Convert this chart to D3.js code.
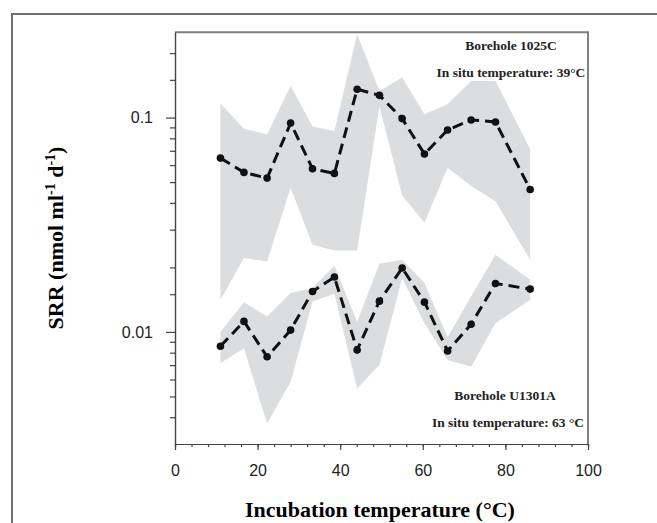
<!DOCTYPE html>
<html>
<head>
<meta charset="utf-8">
<script src="https://cdn.jsdelivr.net/npm/d3@7"></script>
<style>
  body { margin: 0; background: #fff; }
  .axis text { font-family: "Liberation Sans", Arial, sans-serif; font-size: 16px; fill: #222; }
  .axis path, .axis line { stroke: #444; stroke-width: 1.2; }
</style>
</head>
<body>
<div id="chart"></div>
<script>
// incubation temperatures (°C)
var temps = [11, 16.7, 22.3, 28, 33.3, 38.6, 44.1, 49.5, 55, 60.4, 66, 71.7, 77.6, 86];

// Borehole 1025C (in situ 39 °C)
var srr1025 = [0.0647, 0.0555, 0.0522, 0.0943, 0.0577, 0.0549, 0.1357, 0.127, 0.0989, 0.0676, 0.0875, 0.0975, 0.0954, 0.0462];
var hi1025 = [0.1163, 0.0888, 0.0835, 0.1406, 0.0908, 0.0866, 0.245, 0.1332, 0.1539, 0.1036, 0.1154, 0.1483, 0.1483, 0.0711];
var lo1025 = [0.0141, 0.0221, 0.0213, 0.047, 0.0255, 0.024, 0.024, 0.113, 0.0433, 0.0323, 0.0583, 0.0479, 0.0407, 0.0217];

// Borehole U1301A (in situ 63 °C)
var srrU1301 = [0.00857, 0.0112, 0.00766, 0.0102, 0.01544, 0.01803, 0.00824, 0.01392, 0.01987, 0.01377, 0.00815, 0.01086, 0.01683, 0.01584];
var hiU1301 = [0.0100, 0.01377, 0.01179, 0.01518, 0.01601, 0.02036, 0.01117, 0.0208, 0.02173, 0.0169, 0.00945, 0.01463, 0.0229, 0.0175];
var loU1301 = [0.00714, 0.00839, 0.00374, 0.00585, 0.01386, 0.01506, 0.00545, 0.00701, 0.01783, 0.01098, 0.0074, 0.00688, 0.01098, 0.01412];

// ticks
var xMajor = [0, 20, 40, 60, 80, 100];
var xMinor = d3.range(0, 101, 4);
var yMajor = [0.01, 0.1];
var yMinor = [0.004, 0.005, 0.006, 0.007, 0.008, 0.009, 0.015, 0.02, 0.03, 0.04, 0.05, 0.06, 0.07, 0.08, 0.09, 0.15, 0.2];

var width = 657;
var height = 523;
var plot = { left: 175, right: 588, top: 32.3, bottom: 444 };

var svg = d3.select("#chart").append("svg")
    .attr("width", width)
    .attr("height", height);

// outer frame (left and top edges show)
svg.append("path")
    .attr("d", "M12," + height + "V14H" + width)
    .attr("fill", "none")
    .attr("stroke", "#707070")
    .attr("stroke-width", 2);

var x = d3.scaleLinear().domain([0, 100]).range([plot.left, plot.right]);
var y = d3.scaleLog().domain([0.003, 0.25]).range([plot.bottom, plot.top]);

function series(vals, hi, lo) {
    return temps.map(function(t, i) { return { t: t, v: vals[i], hi: hi[i], lo: lo[i] }; });
}
var sets = [series(srr1025, hi1025, lo1025), series(srrU1301, hiU1301, loU1301)];

var area = d3.area()
    .x(function(d) { return x(d.t); })
    .y0(function(d) { return y(d.lo); })
    .y1(function(d) { return y(d.hi); });

var line = d3.line()
    .x(function(d) { return x(d.t); })
    .y(function(d) { return y(d.v); });

sets.forEach(function(s) {
    svg.append("path")
        .attr("d", area(s))
        .attr("fill", "#dcdddf");
});

sets.forEach(function(s) {
    svg.append("path")
        .attr("d", line(s))
        .attr("fill", "none")
        .attr("stroke", "#111")
        .attr("stroke-width", 3)
        .attr("stroke-dasharray", "11,6");
    svg.selectAll(null)
        .data(s)
        .enter().append("circle")
        .attr("cx", function(d) { return x(d.t); })
        .attr("cy", function(d) { return y(d.v); })
        .attr("r", 3.8)
        .attr("fill", "#111");
});

// top and right frame of the plot
svg.append("path")
    .attr("d", "M" + plot.left + "," + plot.top + "H" + plot.right + "V" + plot.bottom)
    .attr("fill", "none")
    .attr("stroke", "#808080")
    .attr("stroke-width", 2);

// x axis
svg.append("g")
    .attr("class", "axis")
    .attr("transform", "translate(0," + plot.bottom + ")")
    .call(d3.axisBottom(x).tickValues(xMinor).tickSize(3).tickFormat(""));
svg.append("g")
    .attr("class", "axis")
    .attr("transform", "translate(0," + plot.bottom + ")")
    .call(d3.axisBottom(x).tickValues(xMajor).tickSize(6).tickSizeOuter(0).tickPadding(15).tickFormat(d3.format("d")));

// y axis
svg.append("g")
    .attr("class", "axis")
    .attr("transform", "translate(" + plot.left + ",0)")
    .call(d3.axisLeft(y).tickValues(yMinor).tickSize(5).tickSizeOuter(0).tickFormat(""));
svg.append("g")
    .attr("class", "axis")
    .attr("transform", "translate(" + plot.left + ",0)")
    .call(d3.axisLeft(y).tickValues(yMajor).tickSize(9).tickSizeOuter(0).tickPadding(13).tickFormat(function(d) { return String(d); }));

// axis titles
var serif = "'Liberation Serif', 'Times New Roman', serif";

svg.append("text")
    .attr("x", 380)
    .attr("y", 517)
    .attr("text-anchor", "middle")
    .style("font-family", serif)
    .style("font-weight", "bold")
    .style("font-size", "22px")
    .text("Incubation temperature (°C)");

var yTitle = svg.append("text")
    .attr("transform", "translate(63,238) rotate(-90)")
    .attr("text-anchor", "middle")
    .style("font-family", serif)
    .style("font-weight", "bold")
    .style("font-size", "22px");
yTitle.append("tspan").text("SRR (nmol ml");
yTitle.append("tspan").attr("dy", -8).style("font-size", "14px").text("-1");
yTitle.append("tspan").attr("dy", 8).text(" d");
yTitle.append("tspan").attr("dy", -8).style("font-size", "14px").text("-1");
yTitle.append("tspan").attr("dy", 8).text(")");

// borehole notes
var notes = [
    { x: 511, y: 50, t: "Borehole 1025C" },
    { x: 511, y: 77, t: "In situ temperature: 39°C" },
    { x: 505, y: 400, t: "Borehole U1301A" },
    { x: 508, y: 427, t: "In situ temperature: 63 °C" }
];
svg.selectAll(null)
    .data(notes)
    .enter().append("text")
    .attr("x", function(d) { return d.x; })
    .attr("y", function(d) { return d.y; })
    .attr("text-anchor", "middle")
    .style("font-family", serif)
    .style("font-weight", "bold")
    .style("font-size", "13.5px")
    .style("fill", "#222")
    .text(function(d) { return d.t; });
</script>
</body>
</html>
